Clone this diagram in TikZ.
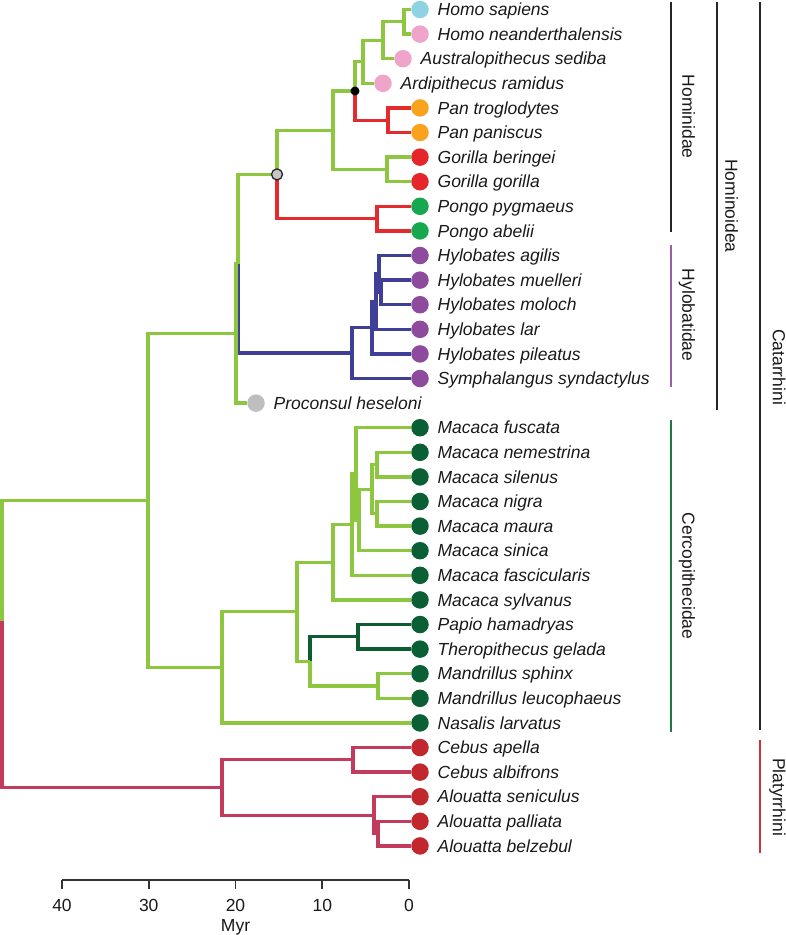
\documentclass[tikz,border=0pt]{standalone}
\usepackage{fontspec}
\setmainfont{Liberation Sans}
\usetikzlibrary{positioning}

\definecolor{brGreen}{HTML}{8DC63F}
\definecolor{brRed}{HTML}{E52A2D}
\definecolor{brBlue}{HTML}{3F3F98}
\definecolor{brDark}{HTML}{0E5C32}
\definecolor{brPlat}{HTML}{C23A5C}
\definecolor{sapC}{HTML}{8FD3E3}
\definecolor{pinkC}{HTML}{EFA5CA}
\definecolor{orangeC}{HTML}{F8A21E}
\definecolor{gorC}{HTML}{E4262B}
\definecolor{pongoC}{HTML}{17A84F}
\definecolor{hyloC}{HTML}{8E4B9E}
\definecolor{procC}{HTML}{BEBEBE}
\definecolor{cercoC}{HTML}{0B5F35}
\definecolor{platC}{HTML}{C2272D}
\definecolor{barPurple}{HTML}{9D5BAA}
\definecolor{barGreen}{HTML}{1E7A45}
\definecolor{barRed}{HTML}{D0323A}

\begin{document}
\begin{tikzpicture}[
    x=1pt,y=-1pt,
    node distance=8.5pt,
    dot/.style={circle, draw=none, minimum size=17.5pt, inner sep=0pt},
    taxon/.style={inner xsep=0pt, inner ysep=0pt, anchor=west, text height=12.5pt, text depth=0pt, font=\fontsize{17.5}{21}\selectfont\itshape, text=black!90},
    brg/.style={line width=3.3pt, brGreen},
    brr/.style={line width=3.3pt, brRed},
    brb/.style={line width=3.3pt, brBlue},
    brd/.style={line width=3.3pt, brDark},
    brp/.style={line width=3.3pt, brPlat},
    bar/.style={line width=1.8pt, black!85},
    clade/.style={rotate=-90, inner sep=0pt, text height=12.5pt, text depth=0pt, font=\fontsize{17.5}{21}\selectfont, text=black!90},
    axis/.style={line width=1.6pt, black!80},
    axlab/.style={inner sep=0pt, text height=12.5pt, text depth=0pt, font=\fontsize{17.5}{21}\selectfont, text=black!90}
]
    \useasboundingbox (0,0) rectangle (786,935);

    % --- Tips: Hominidae ---
    \node[dot, fill=sapC] (hsap) at (420,9.5) {}; \node[taxon, right=of hsap] (hsapT) {Homo sapiens};
    \node[dot, fill=pinkC] (hnea) at (420,34.1) {}; \node[taxon, right=of hnea] (hneaT) {Homo neanderthalensis};
    \node[dot, fill=pinkC] (ased) at (403,58.7) {}; \node[taxon, right=of ased] (asedT) {Australopithecus sediba};
    \node[dot, fill=pinkC] (aram) at (383,83.3) {}; \node[taxon, right=of aram] (aramT) {Ardipithecus ramidus};
    \node[dot, fill=orangeC] (ptro) at (420,107.9) {}; \node[taxon, right=of ptro] (ptroT) {Pan troglodytes};
    \node[dot, fill=orangeC] (ppan) at (420,132.5) {}; \node[taxon, right=of ppan] (ppanT) {Pan paniscus};
    \node[dot, fill=gorC] (gber) at (420,157.1) {}; \node[taxon, right=of gber] (gberT) {Gorilla beringei};
    \node[dot, fill=gorC] (ggor) at (420,181.7) {}; \node[taxon, right=of ggor] (ggorT) {Gorilla gorilla};
    \node[dot, fill=pongoC] (ppyg) at (420,206.3) {}; \node[taxon, right=of ppyg] (ppygT) {Pongo pygmaeus};
    \node[dot, fill=pongoC] (pabe) at (420,230.9) {}; \node[taxon, right=of pabe] (pabeT) {Pongo abelii};

    % --- Tips: Hylobatidae and Proconsul ---
    \node[dot, fill=hyloC] (hagi) at (420,255.5) {}; \node[taxon, right=of hagi] (hagiT) {Hylobates agilis};
    \node[dot, fill=hyloC] (hmue) at (420,280.1) {}; \node[taxon, right=of hmue] (hmueT) {Hylobates muelleri};
    \node[dot, fill=hyloC] (hmol) at (420,304.7) {}; \node[taxon, right=of hmol] (hmolT) {Hylobates moloch};
    \node[dot, fill=hyloC] (hlar) at (420,329.3) {}; \node[taxon, right=of hlar] (hlarT) {Hylobates lar};
    \node[dot, fill=hyloC] (hpil) at (420,353.9) {}; \node[taxon, right=of hpil] (hpilT) {Hylobates pileatus};
    \node[dot, fill=hyloC] (ssyn) at (420,378.5) {}; \node[taxon, right=of ssyn] (ssynT) {Symphalangus syndactylus};
    \node[dot, fill=procC] (phes) at (256,403.1) {}; \node[taxon, right=of phes] (phesT) {Proconsul heseloni};

    % --- Tips: Cercopithecidae ---
    \node[dot, fill=cercoC] (mfus) at (420,427.7) {}; \node[taxon, right=of mfus] (mfusT) {Macaca fuscata};
    \node[dot, fill=cercoC] (mnem) at (420,452.3) {}; \node[taxon, right=of mnem] (mnemT) {Macaca nemestrina};
    \node[dot, fill=cercoC] (msil) at (420,476.9) {}; \node[taxon, right=of msil] (msilT) {Macaca silenus};
    \node[dot, fill=cercoC] (mnig) at (420,501.5) {}; \node[taxon, right=of mnig] (mnigT) {Macaca nigra};
    \node[dot, fill=cercoC] (mmau) at (420,526.1) {}; \node[taxon, right=of mmau] (mmauT) {Macaca maura};
    \node[dot, fill=cercoC] (msin) at (420,550.7) {}; \node[taxon, right=of msin] (msinT) {Macaca sinica};
    \node[dot, fill=cercoC] (mfas) at (420,575.3) {}; \node[taxon, right=of mfas] (mfasT) {Macaca fascicularis};
    \node[dot, fill=cercoC] (msyl) at (420,599.9) {}; \node[taxon, right=of msyl] (msylT) {Macaca sylvanus};
    \node[dot, fill=cercoC] (pham) at (420,624.5) {}; \node[taxon, right=of pham] (phamT) {Papio hamadryas};
    \node[dot, fill=cercoC] (tgel) at (420,649.1) {}; \node[taxon, right=of tgel] (tgelT) {Theropithecus gelada};
    \node[dot, fill=cercoC] (msph) at (420,673.7) {}; \node[taxon, right=of msph] (msphT) {Mandrillus sphinx};
    \node[dot, fill=cercoC] (mleu) at (420,698.3) {}; \node[taxon, right=of mleu] (mleuT) {Mandrillus leucophaeus};
    \node[dot, fill=cercoC] (nlar) at (420,722.9) {}; \node[taxon, right=of nlar] (nlarT) {Nasalis larvatus};

    % --- Tips: Platyrrhini ---
    \node[dot, fill=platC] (cape) at (420,747.5) {}; \node[taxon, right=of cape] (capeT) {Cebus apella};
    \node[dot, fill=platC] (calb) at (420,772.1) {}; \node[taxon, right=of calb] (calbT) {Cebus albifrons};
    \node[dot, fill=platC] (asen) at (420,796.7) {}; \node[taxon, right=of asen] (asenT) {Alouatta seniculus};
    \node[dot, fill=platC] (apal) at (420,821.3) {}; \node[taxon, right=of apal] (apalT) {Alouatta palliata};
    \node[dot, fill=platC] (abel) at (420,845.9) {}; \node[taxon, right=of abel] (abelT) {Alouatta belzebul};

    % --- Internal nodes ---
    \coordinate (homo) at (404,21.8);
    \coordinate (homA) at (383,40.3);
    \coordinate (homB) at (363,61.8);
    \coordinate (pan) at (388,120.2);
    \coordinate (hpan) at (355,91);
    \coordinate (gor) at (387,169.4);
    \coordinate (hmnn) at (333,130.2);
    \coordinate (pongo) at (377,218.6);
    \coordinate (hmd) at (277,174.4);
    \coordinate (hymm) at (381,292.4);
    \coordinate (hyA) at (379,274);
    \coordinate (hyB) at (376,301.7);
    \coordinate (hyC) at (372,327.8);
    \coordinate (hyl) at (352,353.1);
    \coordinate (hoid) at (238,263.8);
    \coordinate (stem) at (236,333.5);
    \coordinate (mns) at (377,464.6);
    \coordinate (mnm) at (377,513.8);
    \coordinate (msl) at (372,489.2);
    \coordinate (mcD) at (359,520);
    \coordinate (mcC) at (356,473.8);
    \coordinate (mcB) at (352,524.6);
    \coordinate (mcA) at (333,562.2);
    \coordinate (papth) at (358,636.8);
    \coordinate (mand) at (378,686);
    \coordinate (ppm) at (310,661.4);
    \coordinate (pap) at (297,611.8);
    \coordinate (cer) at (222,667.4);
    \coordinate (cat) at (148,500.4);
    \coordinate (ceb) at (353,759.8);
    \coordinate (alA) at (378,833.6);
    \coordinate (alB) at (374,815.2);
    \coordinate (pla) at (222,787.5);
    \coordinate (root) at (2,621);

    % --- Branches: Hominidae ---
    \draw[brg] (homo) |- (hsap.west) (homo) |- (hnea.west);
    \draw[brg] (homA) |- (homo) (homA) |- (ased.west);
    \draw[brg] (homB) |- (homA) (homB) |- (aram.west);
    \draw[brr] (pan) |- (ptro.west) (pan) |- (ppan.west);
    \draw[brg] (hpan) |- (homB);
    \draw[brr] (hpan) |- (pan);
    \draw[brg] (gor) |- (gber.west) (gor) |- (ggor.west);
    \draw[brg] (hmnn) |- (hpan) (hmnn) |- (gor);
    \draw[brr] (pongo) |- (ppyg.west) (pongo) |- (pabe.west);
    \draw[brg] (hmd) |- (hmnn);
    \draw[brr] (hmd) |- (pongo);

    % --- Branches: Hylobatidae ---
    \draw[brb] (hymm) |- (hmue.west) (hymm) |- (hmol.west);
    \draw[brb] (hyA) |- (hagi.west) (hyA) |- (hymm);
    \draw[brb] (hyB) |- (hyA) (hyB) |- (hlar.west);
    \draw[brb] (hyC) |- (hyB) (hyC) |- (hpil.west);
    \draw[brb] (hyl) |- (hyC) (hyl) |- (ssyn.west);

    % --- Branches: Hominoidea ---
    \draw[brg] (hoid) |- (hmd);
    \draw[brb] (hoid) |- (hyl);
    \draw[brg] (stem) |- (hoid) (stem) |- (phes.west);

    % --- Branches: Cercopithecidae ---
    \draw[brg] (mns) |- (mnem.west) (mns) |- (msil.west);
    \draw[brg] (mnm) |- (mnig.west) (mnm) |- (mmau.west);
    \draw[brg] (msl) |- (mns) (msl) |- (mnm);
    \draw[brg] (mcD) |- (msl) (mcD) |- (msin.west);
    \draw[brg] (mcC) |- (mfus.west) (mcC) |- (mcD);
    \draw[brg] (mcB) |- (mcC) (mcB) |- (mfas.west);
    \draw[brg] (mcA) |- (mcB) (mcA) |- (msyl.west);
    \draw[brd] (papth) |- (pham.west) (papth) |- (tgel.west);
    \draw[brg] (mand) |- (msph.west) (mand) |- (mleu.west);
    \draw[brd] (ppm) |- (papth);
    \draw[brg] (ppm) |- (mand);
    \draw[brg] (pap) |- (mcA) (pap) |- (ppm);
    \draw[brg] (cer) |- (pap) (cer) |- (nlar.west);
    \draw[brg] (cat) |- (stem) (cat) |- (cer);

    % --- Branches: Platyrrhini and root ---
    \draw[brp] (ceb) |- (cape.west) (ceb) |- (calb.west);
    \draw[brp] (alA) |- (apal.west) (alA) |- (abel.west);
    \draw[brp] (alB) |- (asen.west) (alB) |- (alA);
    \draw[brp] (pla) |- (ceb) (pla) |- (alB);
    \draw[brg] (root) |- (cat);
    \draw[brp] (root) |- (pla);

    % --- Calibration marks ---
    \node[circle, fill=black, minimum size=9pt, inner sep=0pt] (hpanD) at (hpan) {};
    \node[circle, fill=black!22, draw=black!85, line width=1.3pt, minimum size=11pt, inner sep=0pt] (hmdD) at (hmd) {};

    % --- Time axis ---
    \coordinate (axL) at (62,880);
    \coordinate (axR) at (409,880);
    \draw[axis] (axL) -- (axR);
    \foreach \t in {0,10,20,30,40} {
        \draw[axis] (409-8.675*\t,880) -- ++(0,9);
        \node[axlab] (tk\t) at (409-8.675*\t,905) {\t};
    }
    \node[axlab] (myr) at (235.5,925) {Myr};

    % --- Clade bars ---
    \coordinate (hmdT) at (671,2); \coordinate (hmdB) at (671,232);
    \draw[bar] (hmdT) -- (hmdB);
    \node[clade] (hmdL) at (688.5,116.7) {Hominidae};

    \coordinate (hylT) at (671,245); \coordinate (hylB) at (671,387);
    \draw[bar, barPurple] (hylT) -- (hylB);
    \node[clade] (hylL) at (688.5,315) {Hylobatidae};

    \coordinate (cerT) at (671,420); \coordinate (cerB) at (671,732);
    \draw[bar, barGreen] (cerT) -- (cerB);
    \node[clade] (cerL) at (688.5,576) {Cercopithecidae};

    \coordinate (hoiT) at (717,2); \coordinate (hoiB) at (717,410);
    \draw[bar] (hoiT) -- (hoiB);
    \node[clade] (hoiL) at (731.5,206) {Hominoidea};

    \coordinate (catT) at (760,2); \coordinate (catB) at (760,730);
    \draw[bar] (catT) -- (catB);
    \node[clade] (catL) at (779,367) {Catarrhini};

    \coordinate (plaT) at (760,740); \coordinate (plaB) at (760,853);
    \draw[bar, barRed] (plaT) -- (plaB);
    \node[clade] (plaL) at (779,797) {Platyrrhini};

\end{tikzpicture}
\end{document}
